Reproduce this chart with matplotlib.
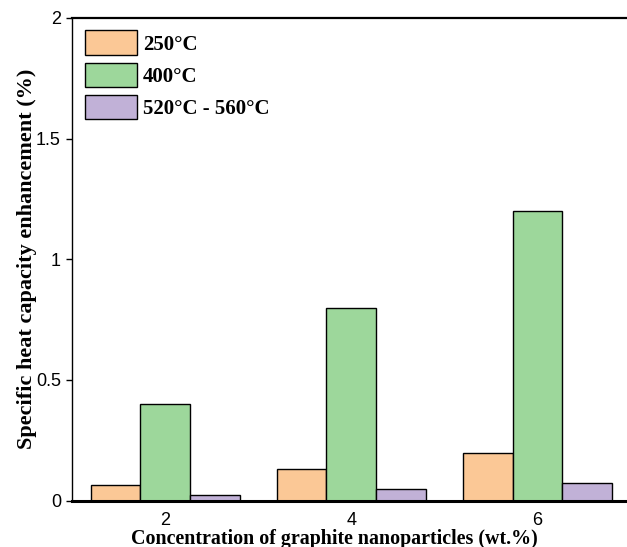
import numpy as np
import matplotlib.pyplot as plt
from matplotlib.patches import Patch

# 石墨纳米颗粒浓度与比热容提升
concentrations = ['2', '4', '6']
series_labels = ['250°C', '400°C', '520°C - 560°C']
enh_250 = [0.065, 0.13, 0.197]
enh_400 = [0.40, 0.80, 1.20]
enh_520 = [0.024, 0.048, 0.072]
colors = ['#fbc896', '#9dd79b', '#c1b1d7']

serif = ['Liberation Serif', 'DejaVu Serif']
sans = ['Liberation Sans', 'DejaVu Sans']

fig = plt.figure(figsize=(6.27, 5.47), dpi=100)
ax = fig.add_axes([72 / 627, 1 - 500.5 / 547, 558.5 / 627, 482.5 / 547])

x = np.arange(len(concentrations))
w = 0.267
for i, (vals, c) in enumerate(zip([enh_250, enh_400, enh_520], colors)):
    ax.bar(x + (i - 1) * w, vals, width=w, color=c, edgecolor='black',
           linewidth=1.0, zorder=2)

ax.set_xlim(-0.5, 2.5)
ax.set_ylim(0, 2)
ax.set_yticks([0, 0.5, 1, 1.5, 2])
ax.set_yticklabels(['0', '0.5', '1', '1.5', '2'])
ax.set_xticks(x)
ax.set_xticklabels(concentrations)

ax.spines['right'].set_visible(False)
ax.spines['left'].set_linewidth(1.0)
ax.spines['top'].set_linewidth(1.6)
ax.spines['bottom'].set_linewidth(2.2)
ax.tick_params(axis='y', direction='out', length=4, width=1.0, pad=4)
ax.tick_params(axis='x', length=0, pad=8.5)
for lab in ax.get_xticklabels() + ax.get_yticklabels():
    lab.set_family(sans)
    lab.set_fontsize(13)

ax.set_xlabel('Concentration of graphite nanoparticles (wt.%)',
              family=serif, fontweight='bold', fontsize=14.4)
ax.set_ylabel('Specific heat capacity enhancement (%)',
              family=serif, fontweight='bold', fontsize=16)
ax.xaxis.set_label_coords(0.469, -0.060)
ax.yaxis.set_label_coords(-0.063, 0.5)

handles = [Patch(facecolor=c, edgecolor='black', linewidth=1.0) for c in colors]
ax.legend(handles, series_labels, loc='upper left', bbox_to_anchor=(0.0, 1.0),
          frameon=False, prop={'family': serif, 'weight': 'bold', 'size': 15},
          handlelength=2.5, handleheight=1.45, handletextpad=0.3,
          labelspacing=0.35, borderaxespad=0.2)

fig.savefig('out.png', dpi=100)
